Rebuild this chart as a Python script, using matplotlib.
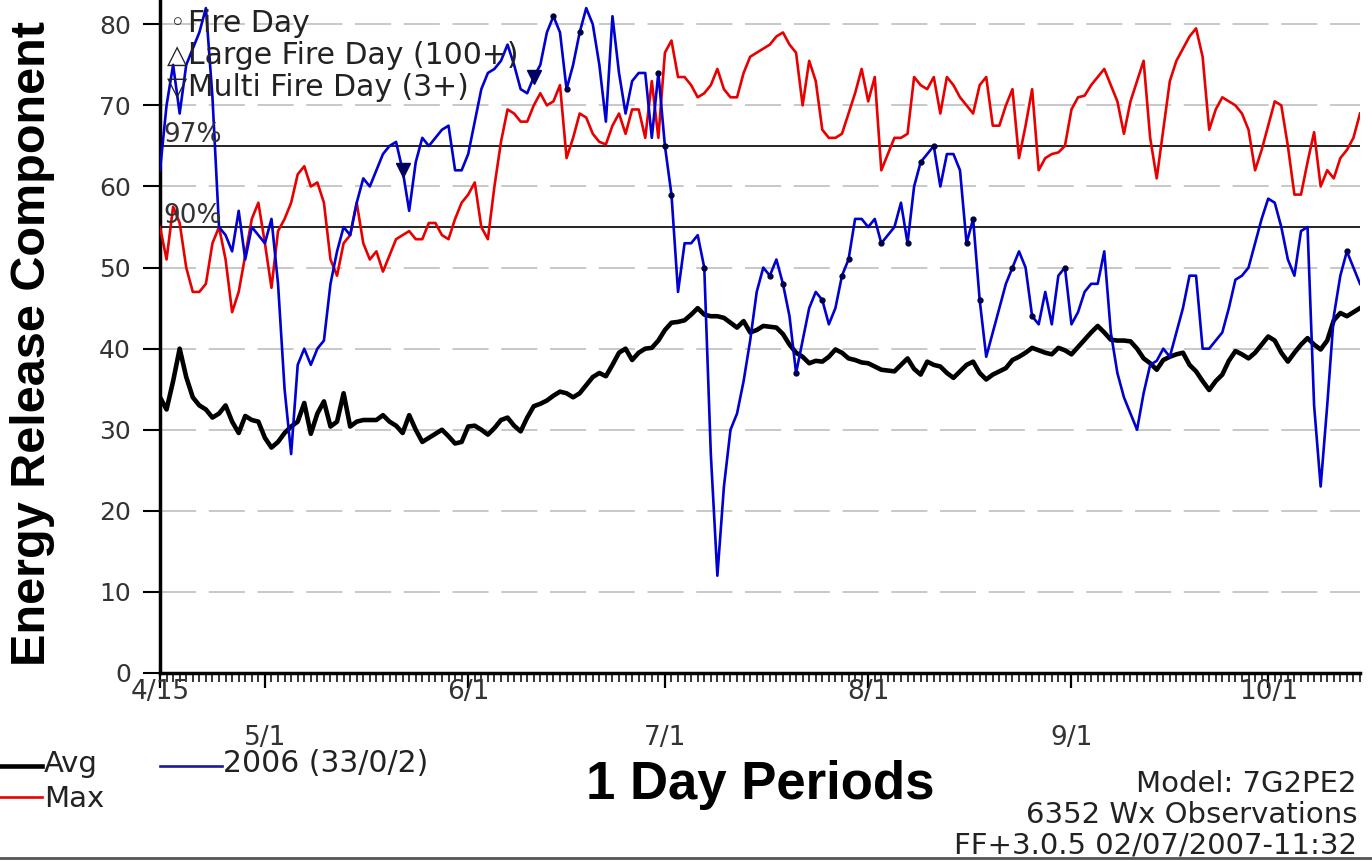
import numpy as np
import matplotlib.pyplot as plt
from matplotlib.lines import Line2D

plt.rcParams['font.family'] = ['DejaVu Sans']

W, H = 1372, 861

# day 0 = 4/15 ... day 183 = 10/15
days = np.arange(184)

avg_erc = [
    34, 32.5, 36, 40, 36.5, 34, 33, 32.5, 31.5, 32,
    33, 31, 29.6, 31.7, 31.2, 31, 29, 27.8, 28.5, 29.6,
    30.4, 31, 33.3, 29.5, 32, 33.5, 30.4, 31, 34.5, 30.4,
    31, 31.2, 31.2, 31.2, 31.8, 31, 30.5, 29.6, 31.8, 30,
    28.5, 29, 29.5, 30, 29.2, 28.3, 28.5, 30.4, 30.5, 30,
    29.4, 30.2, 31.2, 31.5, 30.5, 29.8, 31.5, 32.9, 33.2, 33.6,
    34.2, 34.7, 34.5, 34, 34.5, 35.5, 36.5, 37, 36.6, 38,
    39.5, 40, 38.6, 39.5, 40, 40.1, 41, 42.3, 43.2, 43.3,
    43.5, 44.2, 45, 44.2, 44, 44, 43.8, 43.2, 42.6, 43.4,
    42, 42.3, 42.8, 42.7, 42.6, 41.8, 40.5, 39.5, 39, 38.2,
    38.5, 38.4, 39, 39.9, 39.5, 38.8, 38.6, 38.3, 38.2, 37.8,
    37.4, 37.3, 37.2, 38, 38.8, 37.5, 36.8, 38.4, 38, 37.8,
    37, 36.4, 37.2, 38, 38.4, 37, 36.2, 36.8, 37.2, 37.6,
    38.6, 39, 39.5, 40.1, 39.8, 39.5, 39.3, 40.1, 39.8, 39.3,
    40.2, 41.1, 42, 42.8, 42, 41.1, 41, 41, 40.9, 40,
    38.8, 38.2, 37.4, 38.6, 39, 39.3, 39.5, 38, 37.2, 36,
    34.9, 36, 36.8, 38.5, 39.7, 39.3, 38.8, 39.5, 40.5, 41.5,
    41, 39.5, 38.4, 39.5, 40.5, 41.3, 40.5, 39.9, 41, 43.5,
    44.4, 44, 44.5, 45,
]

max_erc = [
    55, 51, 57.5, 55.5, 50, 47, 47, 48, 53, 55,
    51, 44.5, 47, 51.5, 56, 58, 53, 47.5, 54.5, 56,
    58, 61.5, 62.5, 60, 60.5, 58, 51, 49, 53, 54,
    58, 53, 51, 52, 49.5, 51.5, 53.5, 54, 54.5, 53.5,
    53.5, 55.5, 55.5, 54, 53.5, 56, 58, 59, 60.5, 55,
    53.5, 60, 65.5, 69.5, 69, 68, 68, 70, 71.5, 70,
    70.5, 72.5, 63.5, 66, 69, 68.5, 66.5, 65.5, 65.2, 67.5,
    69, 66.5, 69.5, 69.5, 66, 73, 66, 76.5, 78, 73.5,
    73.5, 72.5, 71, 71.5, 72.5, 74.5, 72, 71, 71, 74,
    76, 76.5, 77, 77.5, 78.5, 79, 77.5, 76.5, 70, 75.5,
    73, 67, 66, 66, 66.5, 69, 71.5, 74.5, 70.5, 73.5,
    62, 64, 66, 66, 66.5, 73.5, 72.5, 72, 73.5, 69,
    73.5, 72.5, 71, 70, 69, 72.5, 73.5, 67.5, 67.5, 70,
    72, 63.5, 67.5, 72, 62, 63.5, 64, 64.2, 65, 69.5,
    71, 71.2, 72.5, 73.5, 74.5, 72.5, 70.5, 66.5, 70.5, 73,
    75.5, 66, 61, 67, 73, 75.5, 77, 78.5, 79.5, 76,
    67, 69.5, 71, 70.5, 70, 69, 67, 62, 64.5, 67.5,
    70.5, 70, 65, 59, 59, 63, 66.7, 60, 62, 61,
    63.5, 64.5, 66, 69,
]

erc_2006 = [
    62, 70, 75, 69, 75, 77, 79, 82, 71, 55,
    54, 52, 57, 51, 55, 54, 53, 56, 48, 35,
    27, 38, 40, 38, 40, 41, 48, 52, 55, 54,
    58, 61, 60, 62, 64, 65, 65.5, 62, 57, 63,
    66, 65, 66, 67, 67.5, 62, 62, 64, 68, 72,
    74, 74.5, 75.5, 77.5, 75, 72, 71.5, 73.5, 75, 79,
    81, 79, 72, 75, 79, 82, 80, 75, 68, 81,
    74, 69, 73, 74, 74, 66, 74, 65, 59, 47,
    53, 53, 54, 50, 27, 12, 23, 30, 32, 36,
    41, 47, 50, 49, 51, 48, 44, 37, 41, 45,
    47, 46, 43, 45, 49, 51, 56, 56, 55, 56,
    53, 54, 55, 58, 53, 60, 63, 64, 65, 60,
    64, 64, 62, 53, 56, 46, 39, 42, 45, 48,
    50, 52, 50, 44, 43, 47, 43, 49, 50, 43,
    44.5, 47, 48, 48, 52, 42, 37, 34, 32, 30,
    34.5, 38, 38.5, 40, 39, 42, 45, 49, 49, 40,
    40, 41, 42, 45, 48.5, 49, 50, 53, 56, 58.5,
    58, 55, 51, 49, 54.5, 55, 33, 23, 33, 44,
    49, 52, 50, 48,
]

fire_days = [60, 62, 64, 76, 77, 78, 83, 93, 95, 97, 101, 104, 105, 110,
             114, 116, 118, 123, 124, 125, 130, 133, 138, 181]
multi_fire_days = [37, 57]

month_days = [0, 16, 47, 77, 108, 139, 169]
month_labels = ['4/15', '5/1', '6/1', '7/1', '8/1', '9/1', '10/1']
y_ticks = [0, 10, 20, 30, 40, 50, 60, 70, 80]
pct_levels = [65, 55]
pct_labels = ['97%', '90%']


def fx(x):
    return x / W


def fy(y):
    return 1 - y / H


fig = plt.figure(figsize=(W / 100, H / 100), dpi=100)
ax = fig.add_axes([fx(160), fy(673), 1200 / W, 673 / H])
ax.set_xlim(0, 183)
ax.set_ylim(0, 83)

# dashed grid + percentile lines
for v in y_ticks[1:]:
    ax.axhline(v, color='#c4c4c4', lw=1.3, dashes=(20, 7), zorder=1)
for lvl, lab in zip(pct_levels, pct_labels):
    ax.axhline(lvl, color='black', lw=1.2, zorder=2)
    ax.text(0.45, lvl + 0.5, lab, fontsize=19, color='#333333',
            ha='left', va='baseline', zorder=7)

ax.plot(days, avg_erc, color='black', lw=3.3, zorder=3)
ax.plot(days, max_erc, color='#e80000', lw=1.9, zorder=4)
ax.plot(days, erc_2006, color='#0000d0', lw=1.9, zorder=5)
ax.plot(fire_days, [erc_2006[d] for d in fire_days], 'o', ms=3.5,
        color='#000040', zorder=6)
ax.plot(multi_fire_days, [erc_2006[d] for d in multi_fire_days], 'v',
        ms=10, color='#000060', zorder=6)

for s in ['top', 'right']:
    ax.spines[s].set_visible(False)
for s in ['left', 'bottom']:
    ax.spines[s].set_linewidth(2.5)

ax.set_yticks(y_ticks)
ax.tick_params(axis='y', direction='out', length=12, width=1.5, pad=9,
               labelsize=18, labelcolor='#333333')
ax.set_xticks(month_days)
ax.set_xticklabels([])
ax.tick_params(axis='x', which='major', direction='out', length=11, width=1.6)

# daily ticks below the axis
ax.vlines(days, -1.1, 0, color='black', lw=1.1, clip_on=False, zorder=2)

for i, (d, lab) in enumerate(zip(month_days, month_labels)):
    off = -14 if i % 2 == 0 else -47
    ax.annotate(lab, xy=(d, 0), xycoords=('data', 'axes fraction'),
                xytext=(0, off), textcoords='offset points', ha='center',
                va='center', fontsize=19, color='#333333',
                annotation_clip=False)

# axis titles
fig.text(fx(33), fy(343), 'Energy Release Component', rotation=90,
         fontsize=35, fontweight='bold', family='Liberation Sans',
         ha='center', va='center')
fig.text(fx(760), fy(785), '1 Day Periods', fontsize=38, fontweight='bold',
         family='Liberation Sans', ha='center', va='center')

# marker key (top left)
key_rows = [('\u25e6', 'Fire Day', 24), ('\u25b3', 'Large Fire Day (100+)', 56),
            ('\u25bd', 'Multi Fire Day (3+)', 88)]
for sym, lab, yy in key_rows:
    fig.text(fx(177), fy(yy), sym, fontsize=19, color='#222222',
             ha='center', va='center')
    fig.text(fx(188), fy(yy), lab, fontsize=21.5, color='#222222',
             ha='left', va='center')

# series key (bottom left)
fig.add_artist(Line2D([fx(0), fx(42)], [fy(766), fy(766)], color='black', lw=3.3))
fig.add_artist(Line2D([fx(0), fx(42)], [fy(797), fy(797)], color='#e80000', lw=1.9))
fig.add_artist(Line2D([fx(160), fx(222)], [fy(766), fy(766)], color='#1a1a9c', lw=1.9))
fig.text(fx(44), fy(764), 'Avg', fontsize=21, color='#222222', va='center')
fig.text(fx(44), fy(799), 'Max', fontsize=21, color='#222222', va='center')
fig.text(fx(223), fy(764), '2006 (33/0/2)', fontsize=21.5, color='#222222',
         va='center')

# info block (bottom right)
info = ['Model: 7G2PE2', '6352 Wx Observations', 'FF+3.0.5 02/07/2007-11:32']
for txt, yy in zip(info, [784, 815, 845]):
    fig.text(fx(1357), fy(yy), txt, fontsize=21, color='#222222',
             ha='right', va='center')

fig.add_artist(Line2D([0, 1], [fy(858), fy(858)], color='#555555', lw=2))

fig.savefig('out.png', dpi=100)
